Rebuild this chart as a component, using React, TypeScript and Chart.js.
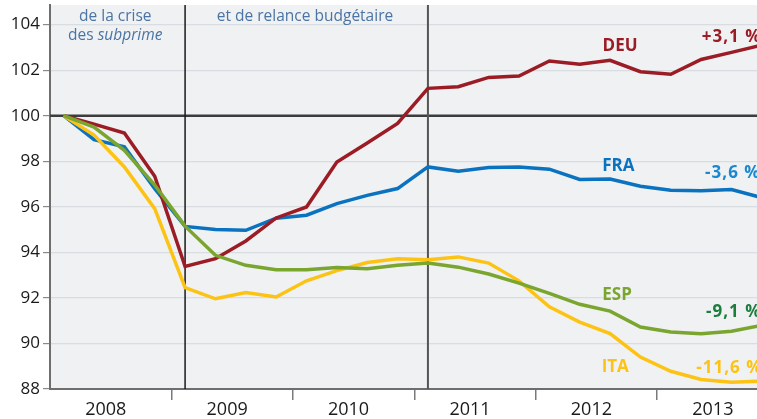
import React, { useEffect, useRef } from "react";
import { Chart, registerables } from "chart.js";

Chart.register(...registerables);

// Quarterly index, 2008 Q1 = 100
const years = ["2008", "2009", "2010", "2011", "2012", "2013"];
const quarters = [
  "2008T1", "2008T2", "2008T3", "2008T4",
  "2009T1", "2009T2", "2009T3", "2009T4",
  "2010T1", "2010T2", "2010T3", "2010T4",
  "2011T1", "2011T2", "2011T3", "2011T4",
  "2012T1", "2012T2", "2012T3", "2012T4",
  "2013T1", "2013T2", "2013T3", "2013T4",
];
const deu = [100, 99.63, 99.24, 97.34, 93.38, 93.72, 94.5, 95.51, 95.99, 97.97, 98.8, 99.66, 101.2, 101.27, 101.68, 101.74, 102.4, 102.26, 102.43, 101.93, 101.82, 102.47, 102.78, 103.1];
const fra = [100, 98.95, 98.63, 96.8, 95.14, 95.0, 94.97, 95.5, 95.63, 96.14, 96.5, 96.8, 97.75, 97.56, 97.72, 97.75, 97.65, 97.2, 97.22, 96.9, 96.73, 96.7, 96.76, 96.4];
const esp = [100, 99.5, 98.48, 96.95, 95.15, 93.87, 93.43, 93.24, 93.24, 93.33, 93.28, 93.43, 93.53, 93.35, 93.05, 92.65, 92.2, 91.72, 91.42, 90.72, 90.5, 90.43, 90.54, 90.8];
const ita = [100, 99.15, 97.75, 95.92, 92.45, 91.96, 92.24, 92.04, 92.75, 93.2, 93.55, 93.72, 93.68, 93.8, 93.53, 92.75, 91.61, 90.94, 90.43, 89.4, 88.78, 88.42, 88.3, 88.35];
const yTicks = [88, 90, 92, 94, 96, 98, 100, 102, 104];
const seriesNames = ["DEU", "FRA", "ESP", "ITA"];
const changes = ["+3,1 %", "-3,6 %", "-9,1 %", "-11,6 %"];
const phaseBreaks = [4, 12]; // quarter index where each period starts

const FONT = "'Open Sans', 'Noto Sans', sans-serif";
const ANN = "#4a74a4";

export default function App() {
  const ref = useRef<HTMLCanvasElement>(null);

  useEffect(() => {
    const canvas = ref.current!;
    const pos = (i: number) => i + 0.45;
    const toPts = (arr: number[]) => arr.map((v, i) => ({ x: pos(i), y: v }));

    const bgPlugin = {
      id: "bg",
      beforeDraw(chart: any) {
        const { ctx, chartArea: a } = chart;
        ctx.save();
        ctx.fillStyle = "#eff1f3";
        ctx.fillRect(a.left, a.top, a.right - a.left, a.bottom - a.top);
        ctx.restore();
      },
    };

    const refLines = {
      id: "refLines",
      beforeDatasetsDraw(chart: any) {
        const { ctx, chartArea: a, scales } = chart;
        const x = scales.x, y = scales.y;
        ctx.save();
        const y100 = y.getPixelForValue(100);
        ctx.strokeStyle = "#3c3c3c";
        ctx.lineWidth = 2.5;
        ctx.beginPath();
        ctx.moveTo(a.left, y100);
        ctx.lineTo(a.right, y100);
        ctx.stroke();
        const styles = [
          { c: "#1a1a1a", w: 1.5 },
          { c: "#555555", w: 2 },
        ];
        phaseBreaks.forEach((q, k) => {
          const px = x.getPixelForValue(pos(q));
          ctx.strokeStyle = styles[k].c;
          ctx.lineWidth = styles[k].w;
          ctx.beginPath();
          ctx.moveTo(px, a.top);
          ctx.lineTo(px, a.bottom);
          ctx.stroke();
        });
        ctx.restore();
      },
    };

    const labelsPlugin = {
      id: "labels",
      afterDatasetsDraw(chart: any) {
        const { ctx, scales } = chart;
        const x = scales.x, y = scales.y;
        ctx.save();
        ctx.textBaseline = "middle";
        // series names
        const nameCol = ["#9b1c24", "#0a72bf", "#7aa52f", "#fdc314"];
        const chgCol = ["#9b1c24", "#1a88d0", "#1d7d3c", "#fdc314"];
        const nameAt = [[18.78, 103.05], [18.72, 97.77], [18.68, 92.14], [18.62, 88.98]];
        const chgAt = [[21.47, 103.44], [21.58, 97.46], [21.61, 91.37], [21.29, 88.92]];
        ctx.font = `bold 17px ${FONT}`;
        seriesNames.forEach((n, k) => {
          ctx.fillStyle = nameCol[k];
          ctx.textAlign = "center";
          (ctx as any).letterSpacing = "0px";
          ctx.fillText(n, x.getPixelForValue(nameAt[k][0]), y.getPixelForValue(nameAt[k][1]));
          ctx.fillStyle = chgCol[k];
          ctx.textAlign = "left";
          (ctx as any).letterSpacing = "1px";
          ctx.fillText(changes[k], x.getPixelForValue(chgAt[k][0]), y.getPixelForValue(chgAt[k][1]));
        });
        (ctx as any).letterSpacing = "0px";
        // period annotations
        ctx.font = `15.5px ${FONT}`;
        ctx.fillStyle = ANN;
        ctx.textAlign = "center";
        const lx = x.getPixelForValue(2.15);
        ctx.fillText("Déclenchement", lx, -10);
        ctx.fillText("de la crise", lx, 17);
        const w1 = ctx.measureText("des ").width;
        ctx.font = `italic 15.5px ${FONT}`;
        const w2 = ctx.measureText("subprime").width;
        const start = lx - (w1 + w2) / 2;
        ctx.textAlign = "left";
        ctx.fillText("subprime", start + w1, 36);
        ctx.font = `15.5px ${FONT}`;
        ctx.fillText("des ", start, 36);
        ctx.textAlign = "center";
        const mx = x.getPixelForValue(8.4);
        ctx.fillText("Période des plans de sauvetage", mx, -8);
        ctx.fillText("et de relance budgétaire", mx, 17);
        const rx = x.getPixelForValue(18.0);
        ctx.fillText("Crise des dettes souveraines", rx, -10);
        ctx.restore();
      },
    };

    const chart = new Chart(canvas, {
      type: "line",
      data: {
        labels: quarters,
        datasets: [
          { label: "ESP", data: toPts(esp), borderColor: "#7aa52f", order: 0 },
          { label: "ITA", data: toPts(ita), borderColor: "#fdc314", order: 1 },
          { label: "DEU", data: toPts(deu), borderColor: "#9b1c24", order: 2 },
          { label: "FRA", data: toPts(fra), borderColor: "#0a72bf", order: 3 },
        ].map((d) => ({
          ...d,
          borderWidth: 3.5,
          pointRadius: 0,
          tension: 0,
          fill: false,
          borderJoinStyle: "miter" as const,
        })),
      },
      options: {
        responsive: false,
        animation: false,
        events: [],
        layout: { padding: { top: 5, left: 0, right: 0, bottom: 0 } },
        plugins: { legend: { display: false }, tooltip: { enabled: false } },
        scales: {
          x: {
            type: "linear",
            min: 0,
            max: 23.29,
            afterBuildTicks: (s: any) => {
              const t = [];
              for (let v = 2; v <= 22; v += 2) t.push({ value: v });
              s.ticks = t;
            },
            afterFit: (s: any) => {
              s.height = 30;
              s.paddingLeft = 0;
              s.paddingRight = 0;
              s.paddingTop = 0;
              s.paddingBottom = 0;
            },
            border: { display: true, color: "#6e6e6e", width: 2 },
            grid: {
              drawOnChartArea: false,
              tickLength: 11,
              lineWidth: 1.5,
              tickColor: (c: any) => (c.tick && c.tick.value % 4 === 0 ? "#7a7a7a" : "rgba(0,0,0,0)"),
            },
            ticks: {
              autoSkip: false,
              maxRotation: 0,
              padding: -1,
              labelOffset: -5,
              color: "#1a1a1a",
              font: { family: FONT, size: 18 },
              callback: (v: any) => (v % 4 === 2 ? years[(v - 2) / 4] : ""),
            },
          },
          y: {
            min: 88,
            max: 104.86,
            afterBuildTicks: (s: any) => {
              s.ticks = yTicks.map((v) => ({ value: v }));
            },
            afterFit: (s: any) => {
              s.width = 50;
              s.paddingTop = 0;
              s.paddingBottom = 0;
              s.paddingLeft = 0;
              s.paddingRight = 0;
            },
            border: { display: true, color: "#6e6e6e", width: 2 },
            grid: {
              color: (c: any) => (c.tick && c.tick.value === 88 ? "rgba(0,0,0,0)" : "#d9dce0"),
              lineWidth: 1.2,
              tickLength: 7,
              tickColor: "#8a8a8a",
            },
            ticks: {
              padding: 3,
              color: "#1a1a1a",
              font: { family: FONT, size: 17 },
              callback: (v: any) => String(v),
            },
          },
        },
      },
      plugins: [bgPlugin, refLines, labelsPlugin],
    });
    return () => chart.destroy();
  }, []);

  return (
    <div style={{ position: "fixed", left: 0, top: 0, width: 757, height: 419, background: "#ffffff" }}>
      <canvas ref={ref} width={757} height={419} style={{ display: "block" }} />
    </div>
  );
}
